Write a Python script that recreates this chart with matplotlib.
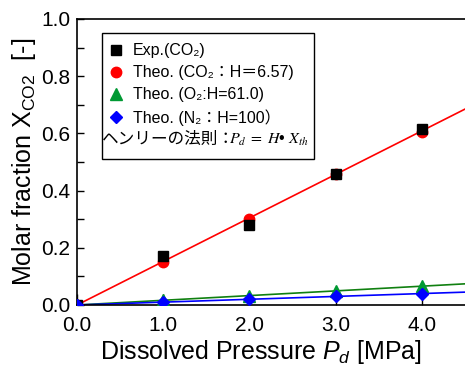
import matplotlib
matplotlib.use("Agg")
import matplotlib.pyplot as plt
from matplotlib.patches import Rectangle

# Data
pressure_pts = [0.0, 1.0, 2.0, 3.0, 4.0]
exp_co2 = [0.0, 0.170, 0.280, 0.458, 0.615]
theo_co2 = [0.0, 0.150, 0.302, 0.457, 0.606]
theo_o2 = [0.0, 0.016, 0.033, 0.049, 0.066]
theo_n2 = [0.0, 0.010, 0.020, 0.030, 0.038]
# theory lines extend to the right edge
line_p = [0.0, 4.5]
line_co2 = [0.0, 0.685]
line_o2 = [0.0, 0.074]
line_n2 = [0.0, 0.045]

xticks = [0.0, 1.0, 2.0, 3.0, 4.0]
xticklabels = ["0.0", "1.0", "2.0", "3.0", "4.0"]
yticks = [0.0, 0.2, 0.4, 0.6, 0.8, 1.0]
yticklabels = ["0.0", "0.2", "0.4", "0.6", "0.8", "1.0"]

labels = ["Exp.(CO\u2082)", "Theo. (CO\u2082\uff1aH\uff1d6.57)",
          "Theo. (O\u2082:H=61.0)", "Theo. (N\u2082\uff1aH=100\uff09"]
henry_jp = "ヘンリーの法則\uff1a"
henry_eq = "$P_d\\;=\\;H$\u2022 $X_{th}$"

plt.rcParams['font.family'] = ['Liberation Sans', 'DejaVu Sans', 'Noto Sans CJK JP']
plt.rcParams['mathtext.fontset'] = 'custom'
plt.rcParams['mathtext.rm'] = 'Liberation Sans'
plt.rcParams['mathtext.it'] = 'Liberation Sans:italic'
plt.rcParams['mathtext.bf'] = 'Liberation Sans:bold'

fig = plt.figure(figsize=(4.65, 3.67), dpi=100)
ax = fig.add_axes([77/465, 62/367, 388/465, 286/367])

red = '#ff0000'
green_line = '#108010'
green_mk = '#009933'
blue = '#0000ff'

ax.plot(line_p, line_co2, color=red, lw=1.2, zorder=2)
ax.plot(line_p, line_o2, color=green_line, lw=1.2, zorder=2)
ax.plot(line_p, line_n2, color=blue, lw=1.2, zorder=2)

h2, = ax.plot(pressure_pts, theo_co2, 'o', color=red, ms=7.5, ls='none', zorder=3)
h3, = ax.plot(pressure_pts, theo_o2, '^', color=green_mk, ms=8, ls='none', zorder=3)
h4, = ax.plot(pressure_pts, theo_n2, 'D', color=blue, ms=6.5, ls='none', zorder=4)
h1, = ax.plot(pressure_pts, exp_co2, 's', color='black', ms=6.5, ls='none', zorder=3.5)

ax.set_xlim(0, 4.5)
ax.set_ylim(0, 1.0)
ax.set_xticks(xticks)
ax.set_xticklabels(xticklabels)
ax.set_yticks(yticks)
ax.set_yticklabels(yticklabels)
ax.set_yticks([0.1, 0.3, 0.5, 0.7, 0.9], minor=True)
ax.tick_params(axis='both', which='both', direction='in', length=5, width=1,
               labelsize=15)
ax.tick_params(axis='x', which='major', length=8, pad=8)
ax.tick_params(axis='y', which='major', pad=5)
ax.spines['right'].set_visible(False)
for s in ['left', 'bottom', 'top']:
    ax.spines[s].set_linewidth(1.2)

ax.set_xlabel("Dissolved Pressure $P_d$ [MPa]", fontsize=18, labelpad=3)
ax.xaxis.set_label_coords(0.474, -0.115)
ax.set_ylabel("Molar fraction X$_{\\mathrm{CO2}}$  [-]", fontsize=18, labelpad=2)

# legend
leg = ax.legend([h1, h2, h3, h4], labels, loc='upper left',
                bbox_to_anchor=(0.08, 0.915), frameon=False, fontsize=11.5,
                handlelength=1.0, handletextpad=0.55, labelspacing=0.44,
                borderaxespad=0, borderpad=0)
rect = Rectangle((0.0644, 0.5105), 0.546, 0.4405, transform=ax.transAxes,
                 fill=True, facecolor='white', edgecolor='black', lw=1.0, zorder=5)
ax.add_patch(rect)
leg.set_zorder(6)

t = ax.text(0.065, 0.562, henry_jp, transform=ax.transAxes, fontsize=12,
            family=['Noto Sans CJK JP', 'DejaVu Sans'], va='baseline', ha='left',
            zorder=7)
t2 = ax.annotate(henry_eq, xy=(0.95, 0.0), xycoords=t, xytext=(0, 0),
                 textcoords='offset points', fontsize=11.5,
                 family=['Liberation Sans'], va='bottom',
                 ha='left', zorder=7, annotation_clip=False)
t2.set_math_fontfamily('stix')

fig.savefig('out.png', dpi=100)
